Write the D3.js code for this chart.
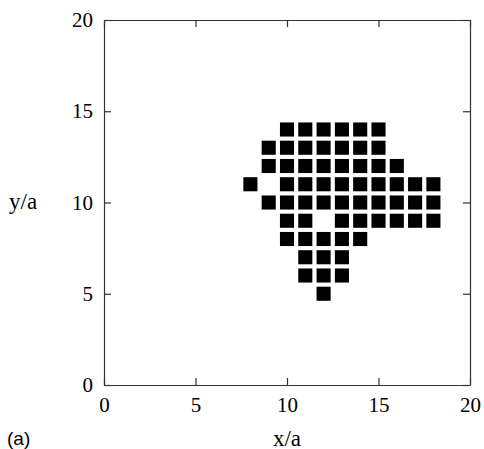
<!DOCTYPE html>
<html>
<head>
<meta charset="utf-8">
<script src="https://cdn.jsdelivr.net/npm/d3@7"></script>
<style>
  body { margin: 0; background: #fff; }
</style>
</head>
<body>
<div id="chart"></div>
<script>
// Occupied lattice sites, one row per y value: [y, list of x]
const rowY = [14, 13, 12, 11, 10, 9, 8, 7, 6, 5];
const rowX = [
  [10, 11, 12, 13, 14, 15],
  [9, 10, 11, 12, 13, 14, 15],
  [9, 10, 11, 12, 13, 14, 15, 16],
  [8, 10, 11, 12, 13, 14, 15, 16, 17, 18],
  [9, 10, 11, 12, 13, 14, 15, 16, 17, 18],
  [10, 11, 13, 14, 15, 16, 17, 18],
  [10, 11, 12, 13, 14],
  [11, 12, 13],
  [11, 12, 13],
  [12]
];
const tickValues = [0, 5, 10, 15, 20];

const width = 484;
const height = 449;
const marginLeft = 104;
const marginRight = 14;
const marginTop = 20;
const marginBottom = 64;
const siteSize = 0.77; // square side in lattice units

const sites = [];
rowY.forEach((y, i) => rowX[i].forEach(x => sites.push({x, y})));

const x = d3.scaleLinear()
  .domain([0, 20])
  .range([marginLeft, width - marginRight]);

const y = d3.scaleLinear()
  .domain([0, 20])
  .range([height - marginBottom, marginTop]);

const svg = d3.select("#chart")
  .append("svg")
  .attr("width", width)
  .attr("height", height)
  .attr("viewBox", [0, 0, width, height]);

// Squares
const side = x(siteSize) - x(0);
svg.append("g")
  .selectAll("rect")
  .data(sites)
  .join("rect")
  .attr("x", d => x(d.x) - side / 2)
  .attr("y", d => y(d.y) - side / 2)
  .attr("width", side)
  .attr("height", side)
  .attr("fill", "#000");

// Axes with inward ticks on all four sides
const tickLen = 7;
const axes = [
  svg.append("g").attr("transform", `translate(0,${height - marginBottom})`)
    .call(d3.axisBottom(x).tickValues(tickValues).tickSizeInner(-tickLen).tickSizeOuter(0).tickPadding(12)),
  svg.append("g").attr("transform", `translate(${marginLeft},0)`)
    .call(d3.axisLeft(y).tickValues(tickValues).tickSizeInner(-tickLen).tickSizeOuter(0).tickPadding(11)),
  svg.append("g").attr("transform", `translate(0,${marginTop})`)
    .call(d3.axisTop(x).tickValues(tickValues).tickSizeInner(-tickLen).tickSizeOuter(0).tickFormat("")),
  svg.append("g").attr("transform", `translate(${width - marginRight},0)`)
    .call(d3.axisRight(y).tickValues(tickValues).tickSizeInner(-tickLen).tickSizeOuter(0).tickFormat(""))
];

axes.forEach(axis => {
  axis.attr("font-family", "'Liberation Serif', 'DejaVu Serif', serif").attr("font-size", 21);
  axis.select(".domain").attr("stroke", "#333").attr("stroke-width", 1.2);
  axis.selectAll(".tick line").attr("stroke", "#333").attr("stroke-width", 1.2);
  axis.selectAll(".tick text").attr("fill", "#000");
});

// Axis labels
svg.append("text")
  .attr("x", x(10))
  .attr("y", 445.5)
  .attr("text-anchor", "middle")
  .style("font-family", "'Liberation Serif', serif")
  .style("font-size", "23px")
  .text("x/a");

svg.append("text")
  .attr("x", 9)
  .attr("y", y(10) + 6.5)
  .style("font-family", "'Liberation Serif', serif")
  .style("font-size", "23px")
  .text("y/a");

svg.append("text")
  .attr("x", 7)
  .attr("y", 445)
  .style("font-family", "'Liberation Sans', Arial, sans-serif")
  .style("font-size", "19px")
  .text("(a)");
</script>
</body>
</html>
